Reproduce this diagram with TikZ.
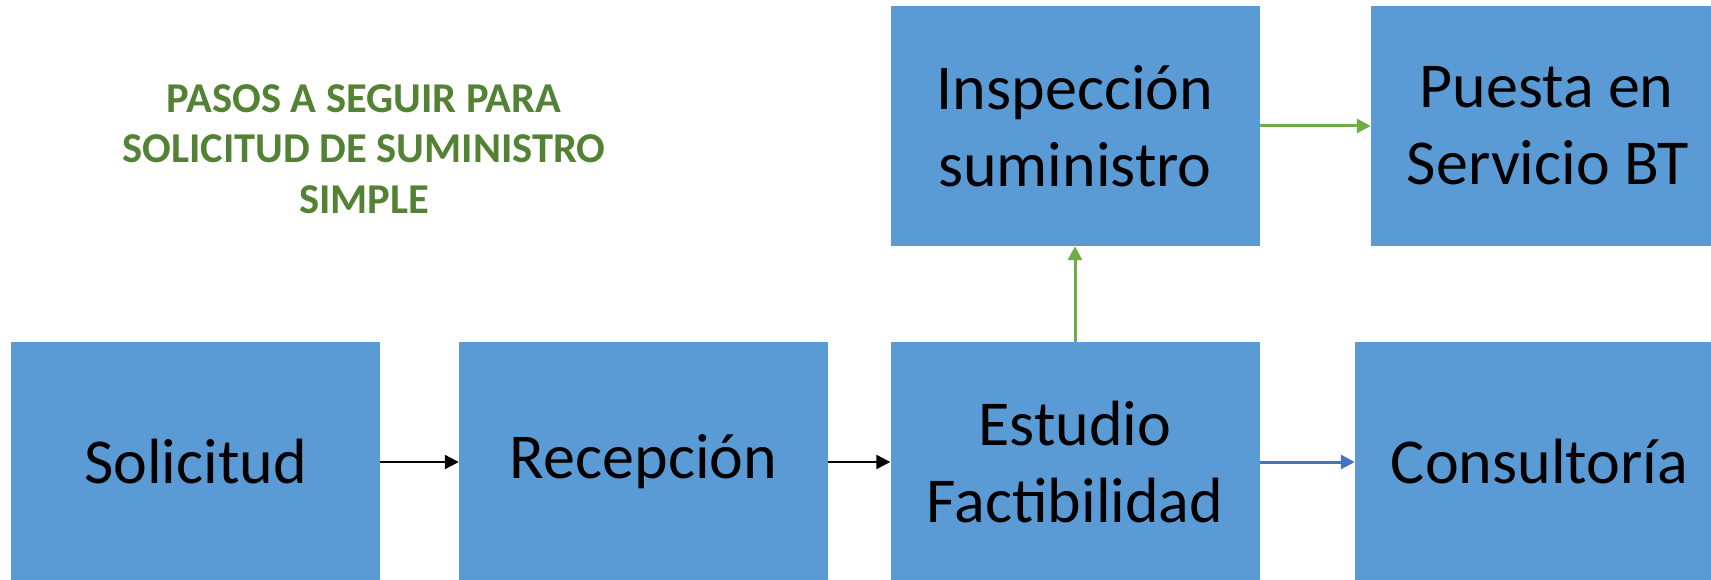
\documentclass[tikz,border=0pt]{standalone}
\usepackage{fontspec}
\setmainfont{Carlito}
\usetikzlibrary{arrows.meta}
\definecolor{boxblue}{HTML}{5B9BD5}
\definecolor{arrgreen}{HTML}{70AD47}
\definecolor{arrblue}{HTML}{4472C4}
\definecolor{titlegreen}{HTML}{548235}
\tikzset{
  stepbox/.style={rectangle, fill=boxblue, draw=none, minimum width=369pt, minimum height=240pt,
    inner sep=0pt, align=center, text=black, font=\fontsize{64}{77}\selectfont},
  blackarrow/.style={draw=black, line width=2.2pt, -{Triangle[length=14pt,width=14pt]}},
  greenarrow/.style={draw=arrgreen, line width=3pt, -{Triangle[length=14pt,width=14pt]}},
  bluearrow/.style={draw=arrblue, line width=3pt, -{Triangle[length=14pt,width=14pt]}},
  titletext/.style={align=center, text=titlegreen, font=\fontsize{42.5}{50.5}\selectfont\bfseries}
}
\begin{document}
\begin{tikzpicture}[x=1pt,y=-1pt]
\useasboundingbox (0,0) rectangle (1711,580);
\fill[white] (0,0) rectangle (1711,580);
\node[titletext] (title) at (364,149) {PASOS A SEGUIR PARA\\SOLICITUD DE SUMINISTRO\\SIMPLE};
\node[stepbox] (sol) at (195.5,462) {Solicitud};
\node[stepbox] (rec) at (643.5,462) {Recepción};
\node[stepbox] (est) at (1075,462) {Estudio\\Factibilidad};
\node[stepbox] (con) at (1539.5,462) {Consultoría};
\node[stepbox] (ins) at (1075,126) {Inspección\\suministro};
\node[stepbox] (pue) at (1555.5,126) {Puesta en\hspace*{18pt}\\Servicio BT\hspace*{15pt}};
\draw[blackarrow] (sol.east) -- (rec.west);
\draw[blackarrow] (rec.east) -- (est.west);
\draw[bluearrow] (est.east) -- (con.west);
\draw[greenarrow] (est.north) -- (ins.south);
\draw[greenarrow] (ins.east) -- (pue.west);
\end{tikzpicture}
\end{document}
